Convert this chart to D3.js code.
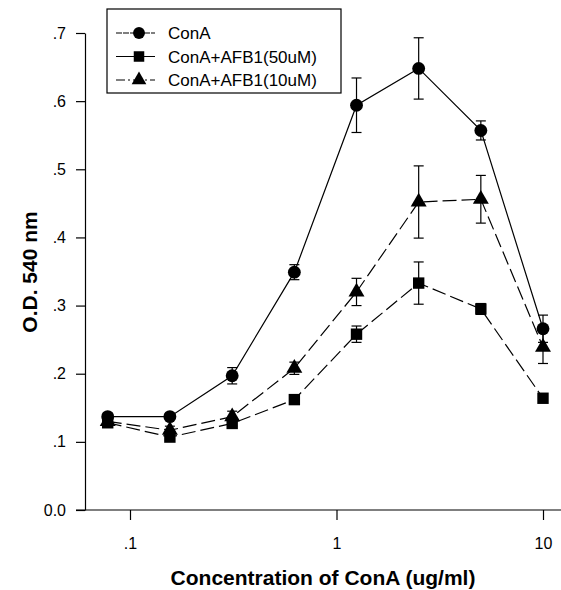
<!DOCTYPE html>
<html>
<head>
<meta charset="utf-8">
<script src="https://cdn.jsdelivr.net/npm/d3@7"></script>
<style>
  body { margin: 0; background: #fff; }
  svg { display: block; font-family: "Liberation Sans", Arial, sans-serif; }
</style>
</head>
<body>
<svg id="chart" width="561" height="590"></svg>
<script>
const concentrations = [0.078, 0.156, 0.3125, 0.625, 1.25, 2.5, 5, 10];
const conA = [0.137, 0.137, 0.197, 0.349, 0.594, 0.648, 0.557, 0.266];
const conAErr = [0.005, 0.004, 0.012, 0.011, 0.040, 0.045, 0.014, 0.020];
const afb50 = [0.128, 0.107, 0.127, 0.162, 0.258, 0.333, 0.295, 0.164];
const afb50Err = [0.004, 0.005, 0.004, 0.004, 0.012, 0.031, 0.008, 0.004];
const afb10 = [0.130, 0.117, 0.137, 0.208, 0.320, 0.452, 0.456, 0.239];
const afb10Err = [0.004, 0.006, 0.008, 0.009, 0.020, 0.053, 0.035, 0.024];
const xTicks = [0.1, 1, 10];
const yTicks = [0, 0.1, 0.2, 0.3, 0.4, 0.5, 0.6, 0.7];
const seriesNames = ['ConA', 'ConA+AFB1(50uM)', 'ConA+AFB1(10uM)'];

const series = [
  { name: seriesNames[0], values: conA, err: conAErr, symbol: d3.symbolCircle, size: 130, dash: null, legendDash: '6,1' },
  { name: seriesNames[1], values: afb50, err: afb50Err, symbol: d3.symbolSquare, size: 130, dash: '14,5', legendDash: null },
  { name: seriesNames[2], values: afb10, err: afb10Err, symbol: d3.symbolTriangle, size: 110, dash: '14,5', legendDash: '9,3,2,3' }
];

const svg = d3.select('#chart');
const plotLeft = 85, plotRight = 561, plotTop = 33, plotBottom = 510;

// log axis: .1 sits at 130px, 10 at 543px
const base = d3.scaleLog().domain([0.1, 10]).range([130, 543]);
const x = d3.scaleLog().domain([base.invert(plotLeft), base.invert(plotRight)]).range([plotLeft, plotRight]);
const y = d3.scaleLinear().domain([0, 0.7]).range([plotBottom, plotTop]);

const yFmt = d => d === 0 ? '0.0' : d3.format('.1f')(d).replace(/^0/, '');
const xFmt = d => d < 1 ? String(d).replace(/^0/, '') : String(d);

const yAxis = svg.append('g')
  .attr('transform', `translate(${plotLeft},0)`)
  .call(d3.axisLeft(y).tickValues(yTicks).tickFormat(yFmt).tickSize(9).tickSizeOuter(0).tickPadding(10));
yAxis.selectAll('text').attr('font-size', 16).attr('fill', '#000').attr('font-family', '"Liberation Sans", Arial, sans-serif');
yAxis.selectAll('line, path').attr('stroke', '#000').attr('stroke-width', 1.2);

const xAxis = svg.append('g')
  .attr('transform', `translate(0,${plotBottom})`)
  .call(d3.axisBottom(x).tickValues(xTicks).tickFormat(xFmt).tickSize(10).tickSizeOuter(0).tickPadding(18));
xAxis.selectAll('text').attr('font-size', 16).attr('fill', '#000').attr('font-family', '"Liberation Sans", Arial, sans-serif');
xAxis.selectAll('line, path').attr('stroke', '#000').attr('stroke-width', 1.2);
xAxis.select('.domain').attr('d', `M${plotLeft - 9},0H${plotRight}`);

svg.append('text')
  .attr('x', 323).attr('y', 585)
  .attr('text-anchor', 'middle')
  .attr('font-size', 21).attr('font-weight', 'bold')
  .text('Concentration of ConA (ug/ml)');

svg.append('text')
  .attr('transform', 'translate(37,272) rotate(-90)')
  .attr('text-anchor', 'middle')
  .attr('font-size', 21).attr('font-weight', 'bold')
  .text('O.D. 540 nm');

const line = d3.line().x((d, i) => x(concentrations[i])).y(d => y(d));

const plot = svg.append('g');
for (const s of series) {
  const g = plot.append('g');
  g.append('path')
    .attr('d', line(s.values))
    .attr('fill', 'none')
    .attr('stroke', '#000')
    .attr('stroke-width', 1.2)
    .attr('stroke-dasharray', s.dash);

  const bars = g.selectAll('g.err')
    .data(s.values)
    .join('g')
    .attr('class', 'err')
    .attr('stroke', '#000')
    .attr('stroke-width', 1.2);
  bars.append('line')
    .attr('x1', (d, i) => x(concentrations[i])).attr('x2', (d, i) => x(concentrations[i]))
    .attr('y1', (d, i) => y(d - s.err[i])).attr('y2', (d, i) => y(d + s.err[i]));
  bars.append('line')
    .attr('x1', (d, i) => x(concentrations[i]) - 5).attr('x2', (d, i) => x(concentrations[i]) + 5)
    .attr('y1', (d, i) => y(d + s.err[i])).attr('y2', (d, i) => y(d + s.err[i]));
  bars.append('line')
    .attr('x1', (d, i) => x(concentrations[i]) - 5).attr('x2', (d, i) => x(concentrations[i]) + 5)
    .attr('y1', (d, i) => y(d - s.err[i])).attr('y2', (d, i) => y(d - s.err[i]));

  g.selectAll('path.mark')
    .data(s.values)
    .join('path')
    .attr('class', 'mark')
    .attr('d', d3.symbol(s.symbol, s.size))
    .attr('transform', (d, i) => `translate(${x(concentrations[i])},${y(d)})`)
    .attr('fill', '#000');
}

// legend
const legend = svg.append('g').attr('transform', 'translate(107,9)');
legend.append('rect')
  .attr('width', 234).attr('height', 84)
  .attr('fill', '#fff').attr('stroke', '#000').attr('stroke-width', 1.2);
series.forEach((s, i) => {
  const row = legend.append('g').attr('transform', `translate(0,${24 + i * 23.5})`);
  row.append('line')
    .attr('x1', 9).attr('x2', 48)
    .attr('stroke', '#000').attr('stroke-width', 1.2)
    .attr('stroke-dasharray', s.legendDash);
  row.append('path')
    .attr('d', d3.symbol(s.symbol, s.size * 0.85))
    .attr('transform', 'translate(32,0)');
  row.append('text')
    .attr('x', 61).attr('dy', '0.36em')
    .attr('font-size', 17)
    .text(s.name);
});
</script>
</body>
</html>
